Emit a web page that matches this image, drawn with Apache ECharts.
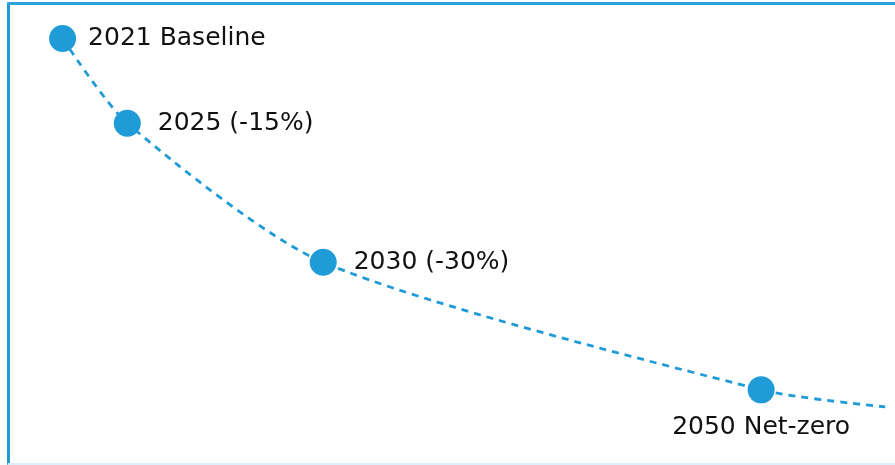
<!DOCTYPE html>
<html>
<head>
<meta charset="utf-8">
<script src="https://cdn.jsdelivr.net/npm/echarts@6/dist/echarts.min.js"></script>
<style>
  html, body { margin: 0; padding: 0; background: #fff; }
  #chart { width: 895px; height: 465px; }
</style>
</head>
<body>
<div id="chart"></div>
<script>
// milestones (position on an illustrative 0-100 scale)
var labels = ['2021 Baseline', '2025 (-15%)', '2030 (-30%)', '2050 Net-zero'];
var xVals = [6.1, 13.4, 35.5, 84.9];
var yVals = [92.4, 74.0, 43.8, 16.1];
// where the dashed trend line runs out past the last marker
var tailX = 98.9;
var tailY = 12.4;

var blue = '#1f9bd7';

var curve = [];
for (var i = 0; i < xVals.length; i++) {
  curve.push([xVals[i], yVals[i]]);
}
curve.push([tailX, tailY]);

var points = [];
for (var j = 0; j < labels.length; j++) {
  points.push({
    value: [xVals[j], yVals[j]],
    name: labels[j],
    label: j === 3
      ? { position: 'bottom', distance: 12 }
      : { position: 'right', distance: j === 0 ? 12 : 17 }
  });
}

var chart = echarts.init(document.getElementById('chart'));
var option = {
  animation: false,
  backgroundColor: '#fff',
  grid: { left: 8.5, right: 0, top: 3.5, bottom: 1 },
  xAxis: [{
    type: 'value', min: 0, max: 100, position: 'top',
    axisLine: { show: true, onZero: false, lineStyle: { color: '#2ba3dd', width: 3 } },
    axisTick: { show: false }, axisLabel: { show: false }, splitLine: { show: false }
  }, {
    type: 'value', min: 0, max: 100, position: 'bottom',
    axisLine: { show: true, onZero: false, lineStyle: { color: '#dceefa', width: 2 } },
    axisTick: { show: false }, axisLabel: { show: false }, splitLine: { show: false }
  }],
  yAxis: {
    type: 'value', min: 0, max: 100,
    axisLine: { show: true, onZero: false, lineStyle: { color: '#1e9ad6', width: 3 } },
    axisTick: { show: false }, axisLabel: { show: false }, splitLine: { show: false }
  },
  series: [{
    type: 'line',
    data: curve,
    smooth: 0.25,
    showSymbol: false,
    lineStyle: { color: blue, width: 2.8, type: [7, 6] },
    z: 1
  }, {
    type: 'scatter',
    data: points,
    symbolSize: 27,
    itemStyle: { color: blue, opacity: 1 },
    label: {
      show: true,
      formatter: '{b}',
      fontFamily: 'DejaVu Sans',
      fontSize: 25,
      color: '#111'
    },
    z: 2
  }]
};
chart.setOption(option);
</script>
</body>
</html>
